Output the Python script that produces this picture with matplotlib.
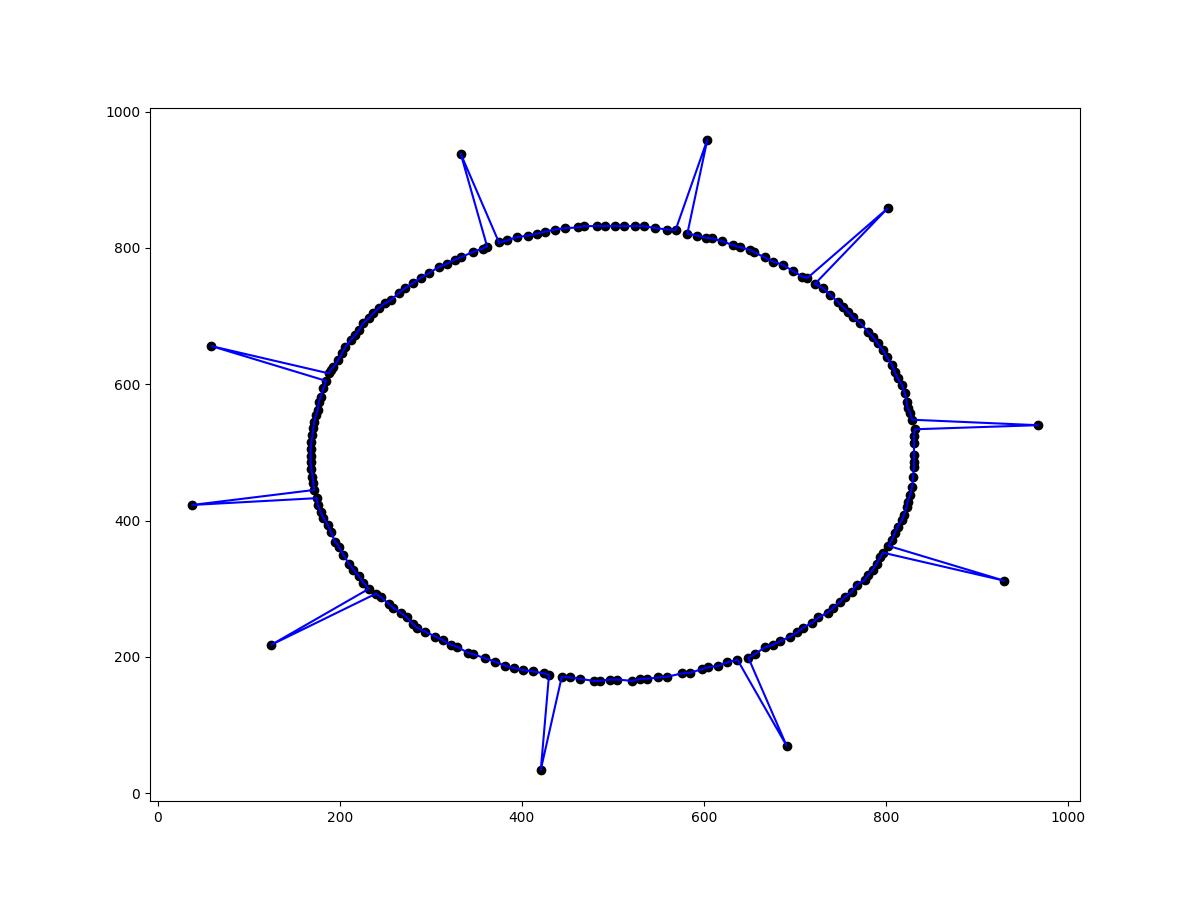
import matplotlib
matplotlib.use("Agg")
import matplotlib.pyplot as plt

# Points around the ring, in drawing order (outliers sit between two ring points)
x = [375, 384, 395, 407, 417, 426, 437, 448, 462, 468, 483, 492, 503, 512, 525, 534,
     547, 560, 569, 604, 582, 593, 602, 609, 620, 632, 640, 651, 655, 667, 676, 687,
     698, 708, 714, 802, 722, 731, 739, 748, 753, 759, 764, 772, 781, 786, 791, 797,
     801, 807, 810, 813, 818, 821, 823, 824, 827, 829, 967, 832, 831, 831, 831, 831,
     831, 830, 829, 827, 824, 823, 820, 818, 813, 810, 807, 803, 930, 797, 794, 790,
     786, 781, 777, 768, 763, 755, 750, 742, 736, 726, 719, 709, 703, 695, 684, 676,
     667, 656, 649, 691, 637, 626, 616, 605, 598, 585, 576, 560, 550, 538, 530, 521,
     505, 497, 486, 479, 464, 453, 444, 421, 430, 424, 412, 401, 391, 382, 371, 360,
     347, 341, 329, 322, 313, 305, 294, 285, 280, 274, 267, 259, 254, 245, 240, 125,
     232, 226, 221, 215, 210, 204, 199, 195, 190, 187, 182, 179, 176, 175, 38, 172,
     171, 170, 169, 168, 168, 168, 169, 170, 171, 172, 174, 176, 177, 179, 182, 185,
     59, 188, 190, 193, 198, 203, 206, 212, 217, 221, 226, 232, 237, 243, 250, 256,
     265, 272, 280, 289, 298, 309, 318, 327, 333, 346, 357, 362, 333]
y = [808, 811, 816, 818, 821, 824, 827, 829, 830, 832, 832, 832, 832, 832, 832, 832,
     829, 827, 826, 959, 821, 818, 815, 814, 810, 804, 801, 797, 794, 786, 780, 775,
     766, 758, 756, 858, 747, 741, 731, 720, 713, 706, 698, 690, 676, 669, 660, 650,
     640, 628, 618, 609, 599, 587, 574, 565, 558, 548, 540, 534, 524, 514, 496, 486,
     479, 464, 450, 438, 428, 420, 409, 401, 391, 382, 372, 363, 312, 353, 346, 337,
     328, 321, 313, 306, 296, 288, 281, 272, 265, 258, 250, 243, 236, 230, 223, 218,
     214, 204, 199, 70, 196, 192, 187, 185, 182, 177, 176, 171, 170, 168, 168, 165,
     167, 167, 165, 165, 168, 170, 171, 35, 174, 176, 179, 181, 184, 187, 193, 198,
     204, 206, 215, 218, 225, 230, 237, 243, 249, 258, 265, 272, 278, 288, 293, 218,
     300, 309, 319, 328, 337, 350, 362, 369, 384, 394, 404, 413, 423, 433, 423, 445,
     455, 464, 476, 486, 495, 505, 515, 526, 536, 545, 555, 562, 574, 581, 594, 605,
     656, 616, 621, 625, 635, 646, 654, 665, 672, 679, 690, 697, 704, 712, 719, 723,
     734, 741, 748, 756, 763, 772, 777, 783, 786, 794, 799, 802, 938]

fig, ax = plt.subplots(figsize=(12, 9), dpi=100)

ax.plot(x, y, "ko")
ax.plot(x + [x[0]], y + [y[0]], "b-")

fig.savefig("out.png")
